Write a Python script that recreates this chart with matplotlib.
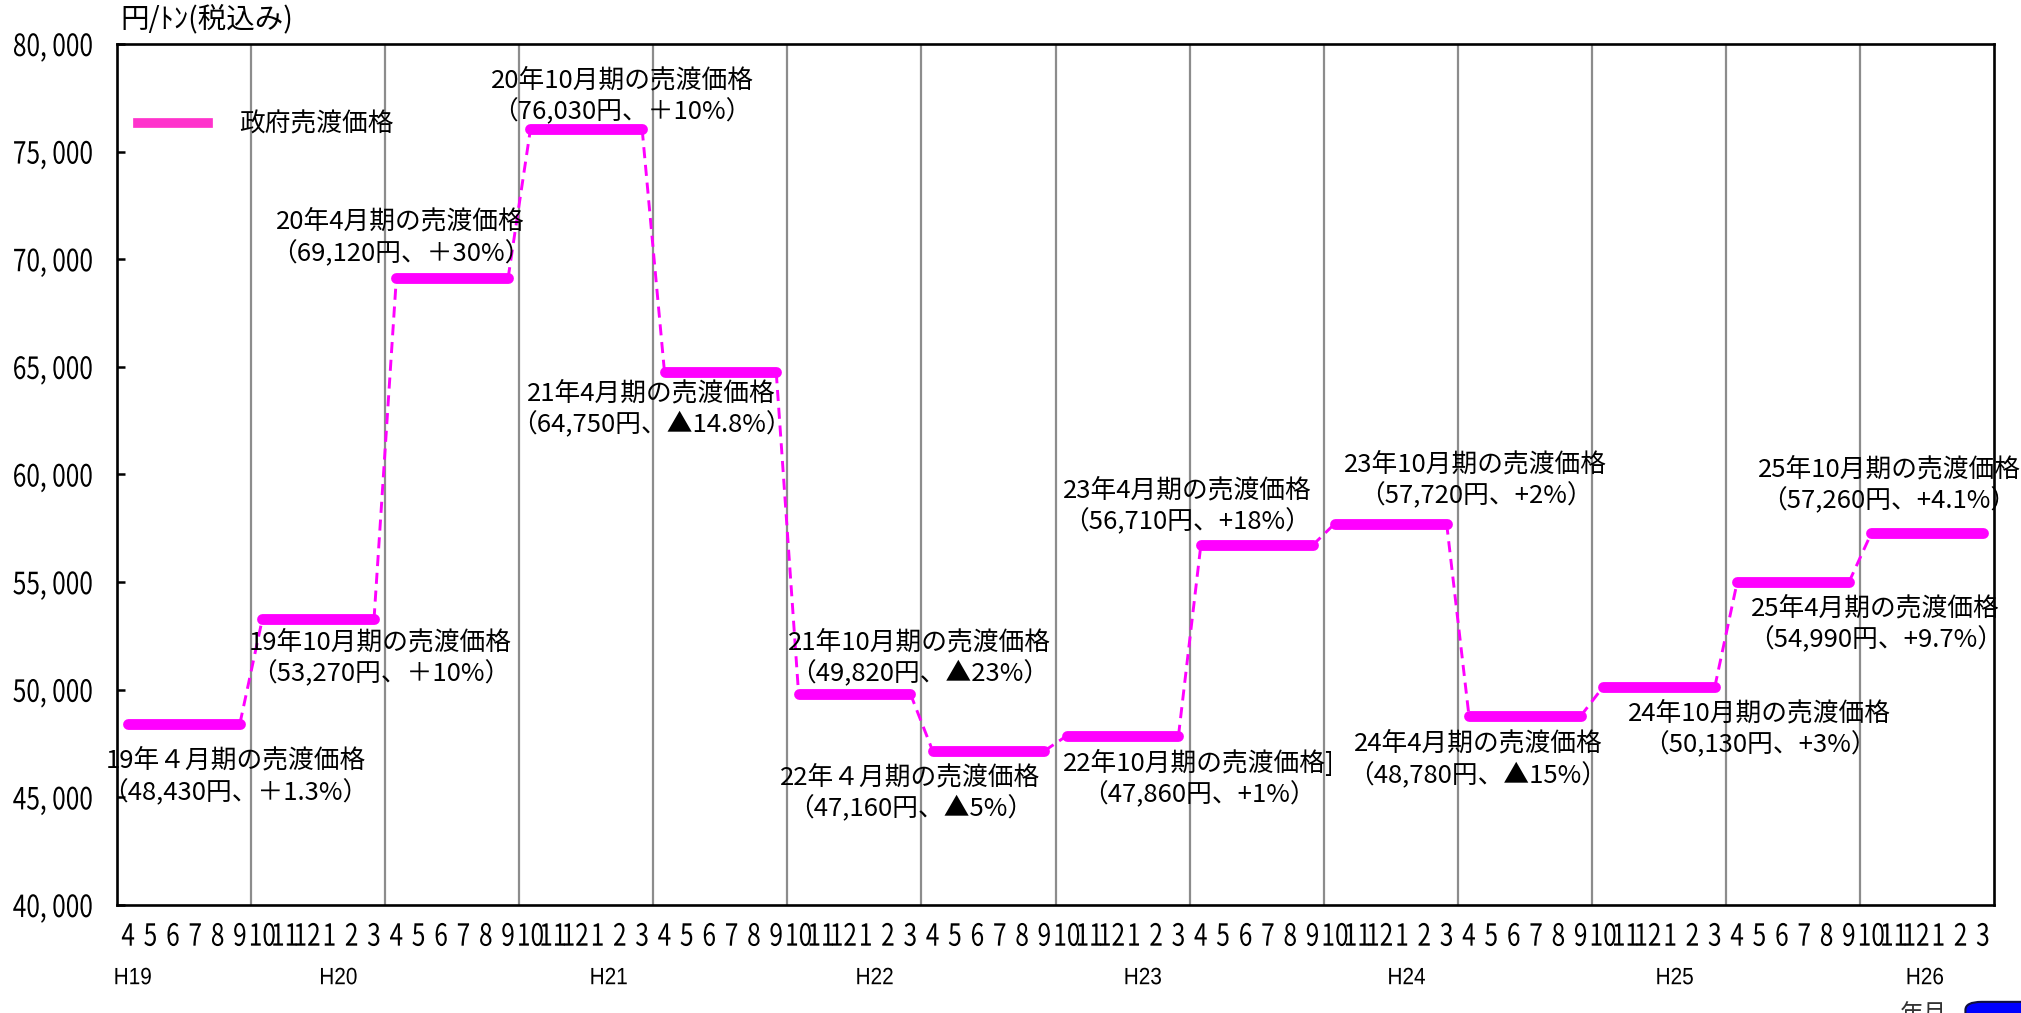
"""Government sale price of rice per half-year period, H19-H25"""
import matplotlib

matplotlib.use("Agg")
import matplotlib.pyplot as plt
from matplotlib.lines import Line2D
from matplotlib.patches import FancyBboxPatch
from matplotlib.patheffects import AbstractPathEffect
from matplotlib.ticker import FuncFormatter
from matplotlib.transforms import Affine2D

plt.rcParams["font.family"] = ["Noto Sans CJK JP", "DejaVu Sans"]

# half-year sale periods, price (yen per ton incl. tax) and change vs previous period
period_titles = [
    "19年４月期の売渡価格",
    "19年10月期の売渡価格",
    "20年4月期の売渡価格",
    "20年10月期の売渡価格",
    "21年4月期の売渡価格",
    "21年10月期の売渡価格",
    "22年４月期の売渡価格",
    "22年10月期の売渡価格]",
    "23年4月期の売渡価格",
    "23年10月期の売渡価格",
    "24年4月期の売渡価格",
    "24年10月期の売渡価格",
    "25年4月期の売渡価格",
    "25年10月期の売渡価格",
]
prices = [48430, 53270, 69120, 76030, 64750, 49820, 47160,
          47860, 56710, 57720, 48780, 50130, 54990, 57260]
changes = ["＋1.3%", "＋10%", "＋30%", "＋10%", "▲14.8%", "▲23%", "▲5%",
           "+1%", "+18%", "+2%", "▲15%", "+3%", "+9.7%", "+4.1%"]

month_names = ["4", "5", "6", "7", "8", "9", "10", "11", "12", "1", "2", "3"]
fiscal_years = ["H19", "H20", "H21", "H22", "H23", "H24", "H25", "H26"]

# where each label block sits (month index, price level of its first line)
label_x = [5.3, 11.8, 12.7, 22.6, 23.9, 35.9, 35.5, 48.4, 47.9, 60.8, 60.9, 73.5, 78.7, 79.3]
label_y = [46700, 52200, 71740, 78320, 63770, 52200, 45930,
           46590, 59280, 60480, 47490, 48920, 53770, 60240]
year_label_x = [0.7, 9.9, 22.0, 33.9, 45.9, 57.7, 69.7, 80.9]

MONTHS_PER_PERIOD = 6
LINE_COLOR = "#ff00ff"


class Narrow(AbstractPathEffect):
    """Draw text glyphs squeezed horizontally (narrow digit look)."""

    def __init__(self, factor=0.8, anchor="center"):
        super().__init__()
        self._factor = factor
        self._anchor = anchor

    def draw_path(self, renderer, gc, tpath, affine, rgbFace=None):
        ext = tpath.get_extents()
        if self._anchor == "right":
            cx = ext.x1
        elif self._anchor == "left":
            cx = ext.x0
        else:
            cx = (ext.x0 + ext.x1) / 2
        squeeze = Affine2D().translate(-cx, 0).scale(self._factor, 1).translate(cx, 0)
        renderer.draw_path(gc, tpath, squeeze + affine, rgbFace)


fig = plt.figure(figsize=(20.21, 10.13), dpi=100)
ax = fig.add_axes([0.0579, 0.1066, 0.9288, 0.850])

n_months = len(month_names) * (len(fiscal_years) - 1)

# solid bar for each period, dashed link to the next one
for i, price in enumerate(prices):
    x0 = MONTHS_PER_PERIOD * i + 0.5
    x1 = x0 + MONTHS_PER_PERIOD - 1
    ax.plot([x0, x1], [price, price], color=LINE_COLOR, lw=7.8,
            solid_capstyle="round", zorder=4)
    if i + 1 < len(prices):
        ax.plot([x1, x1 + 1], [price, prices[i + 1]], color=LINE_COLOR, lw=2.1,
                linestyle=(0, (3.8, 2.3)), zorder=4)

# period labels
for i, title in enumerate(period_titles):
    ax.text(label_x[i], label_y[i], title, ha="center", va="center",
            fontsize=18.5, zorder=5)
    ax.annotate(f"（{prices[i]:,}円、{changes[i]}）", (label_x[i], label_y[i]),
                xytext=(0, -22.8), textcoords="offset points",
                ha="center", va="center", fontsize=18.5, zorder=5)

ax.set_xlim(0, n_months)
ax.set_ylim(40000, 80000)

ax.set_yticks(range(40000, 80001, 5000))
ax.yaxis.set_major_formatter(FuncFormatter(lambda v, pos: f"{v:,.0f}".replace(",", ", ")))
ax.tick_params(axis="y", direction="in", length=6, width=1.8, pad=17, labelsize=22)
for lbl in ax.get_yticklabels():
    lbl.set_path_effects([Narrow(0.8, "right")])

ax.set_xticks([m + 0.5 for m in range(n_months)])
ax.set_xticklabels(month_names * (len(fiscal_years) - 1))
ax.tick_params(axis="x", which="major", length=0, pad=12, labelsize=22)
for lbl in ax.get_xticklabels():
    lbl.set_path_effects([Narrow(0.8)])

ax.set_xticks(range(MONTHS_PER_PERIOD, n_months, MONTHS_PER_PERIOD), minor=True)
ax.tick_params(axis="x", which="minor", length=0)
ax.grid(True, axis="x", which="minor", color="#8c8c8c", lw=1.6)
ax.set_axisbelow(True)

for spine in ax.spines.values():
    spine.set_linewidth(1.9)
    spine.set_color("black")

# fiscal year row under the month numbers
for name, xpos in zip(fiscal_years, year_label_x):
    ax.text(xpos, -0.085, name, transform=ax.get_xaxis_transform(),
            ha="center", va="center", fontsize=17, family="Liberation Sans",
            path_effects=[Narrow(0.88)])

ax.legend(handles=[Line2D([], [], color="#ff33cc", lw=7)], labels=["政府売渡価格"],
          loc="center left", bbox_to_anchor=(0.011, 0.906), frameon=False,
          handlelength=2.75, handletextpad=1.2, borderpad=0, borderaxespad=0,
          fontsize=18.5)

fig.text(0.0594, 0.981, "円/ﾄﾝ(税込み)", ha="left", va="center", fontsize=20.5)

# bottom-right corner: unit caption and button
fig.text(0.94, 0.009, "年月", ha="left", va="top", fontsize=17, color="#333333")
fig.patches.append(FancyBboxPatch((0.9725, -0.02), 0.04, 0.031,
                                  boxstyle="round,pad=0,rounding_size=0.008",
                                  transform=fig.transFigure, facecolor="#0000ff",
                                  edgecolor="#101040", lw=1.5))

fig.savefig("out.png", dpi=100)
